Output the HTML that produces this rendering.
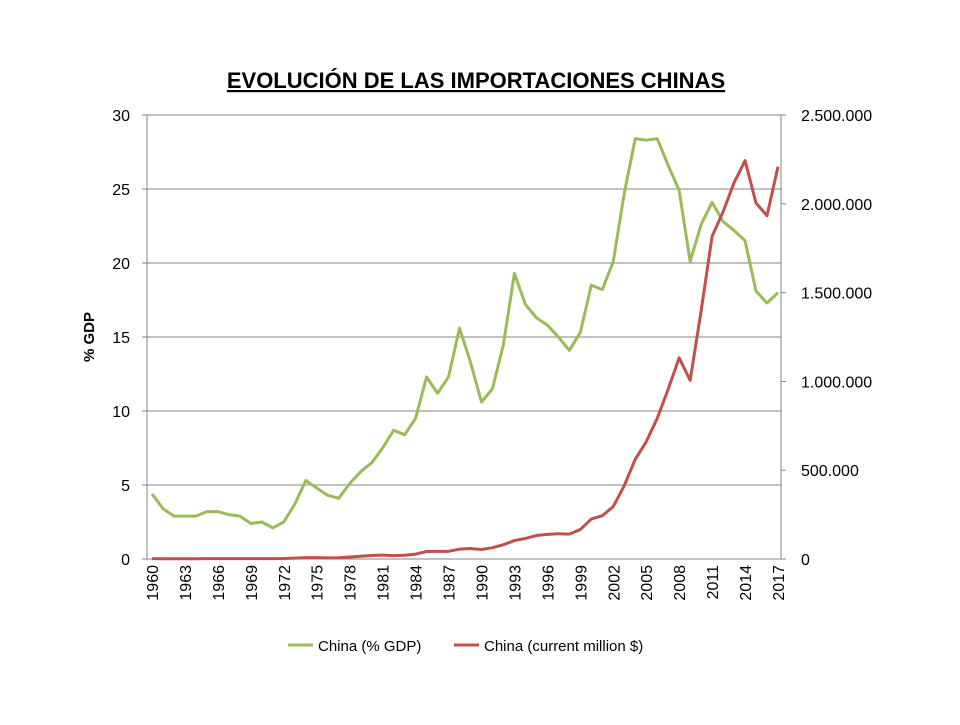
<!DOCTYPE html>
<html><head><meta charset="utf-8"><style>
body{margin:0;background:#fff;font-family:"Liberation Sans",sans-serif}
</style></head><body>
<svg id="c" width="960" height="720" xmlns="http://www.w3.org/2000/svg">
<text x="476" y="88" text-anchor="middle" font-size="22" font-weight="bold" text-decoration="underline" font-family="Liberation Sans, sans-serif">EVOLUCIÓN DE LAS IMPORTACIONES CHINAS</text>
<text transform="translate(94,337) rotate(-90)" text-anchor="middle" font-size="15" font-weight="bold">% GDP</text>
<g id="grid"></g><g id="axes"></g><g id="series"></g>
<g>
<line x1="288" y1="645" x2="313" y2="645" stroke="#9BBB59" stroke-width="3"/>
<text x="318" y="651" font-size="15">China (% GDP)</text>
<line x1="454" y1="645" x2="479" y2="645" stroke="#C0504D" stroke-width="3"/>
<text x="484" y="651" font-size="15">China (current million $)</text>
</g>
</svg>
<script>
const years=[];for(let y=1960;y<=2017;y++)years.push(y);
const gdpPct=[4.4,3.4,2.9,2.9,2.9,3.2,3.2,3.0,2.9,2.4,2.5,2.1,2.5,3.7,5.3,4.8,4.3,4.1,5.1,5.9,6.5,7.5,8.7,8.4,9.5,12.3,11.2,12.3,15.6,13.3,10.6,11.5,14.5,19.3,17.2,16.3,15.8,15.0,14.1,15.3,18.5,18.2,20.1,24.7,28.4,28.3,28.4,26.6,24.9,20.1,22.6,24.1,22.8,22.2,21.5,18.1,17.3,18.0];
const usdMillion=[2000,1500,1200,1300,1500,1800,2200,2000,1900,1800,2300,2200,2900,5200,7600,7500,6600,7200,11100,15700,20000,22000,19300,21400,27400,42300,42900,43200,55300,59100,53300,63800,80600,103900,115600,132100,138800,142400,140200,165700,225100,243600,295200,412800,561200,660000,791500,956100,1132600,1005900,1396200,1817000,1954600,2118800,2243600,2003800,1933000,2208800];
const leftTicks=[0,5,10,15,20,25,30];
const rightTicks=[0,500000,1000000,1500000,2000000,2500000];
const rightLabels=["0","500.000","1.000.000","1.500.000","2.000.000","2.500.000"];
const X0=147,X1=781,Y0=559,Y1=115;
const x=i=>152+i*(778-152)/(years.length-1);
const yL=v=>Y0-(v/30)*(Y0-Y1);
const yR=v=>Y0-(v/2500000)*(Y0-Y1);
const NS="http://www.w3.org/2000/svg";
function mk(t,a,p){const e=document.createElementNS(NS,t);for(const k in a)e.setAttribute(k,a[k]);p.appendChild(e);return e;}
const grid=document.getElementById('grid'),axes=document.getElementById('axes'),ser=document.getElementById('series');
leftTicks.forEach(v=>{
 if(v>0){const l=mk('line',{x1:X0,x2:X1,y1:yL(v),y2:yL(v),stroke:'#868686','stroke-width':1},grid);
 
 }
 const t=mk('text',{x:X0-17,y:yL(v)+6,'text-anchor':'end','font-size':16},axes);t.textContent=v;
 
 
 mk('line',{x1:X0-5,x2:X0,y1:yL(v),y2:yL(v),stroke:'#868686'},axes);
});
rightTicks.forEach((v,i)=>{
 const t=mk('text',{x:X1+20,y:yR(v)+6,'font-size':16},axes);t.textContent=rightLabels[i];
 
 
 mk('line',{x1:X1,x2:X1+5,y1:yR(v),y2:yR(v),stroke:'#868686'},axes);
});
mk('line',{x1:X0,x2:X0,y1:Y1,y2:Y0,stroke:'#868686'},axes);
mk('line',{x1:X1,x2:X1,y1:Y1,y2:Y0,stroke:'#868686'},axes);
mk('line',{x1:X0,x2:X1,y1:Y0,y2:Y0,stroke:'#868686'},axes);
years.forEach((yr,i)=>{
 if(i%3===0||i===years.length-1){
  const t=mk('text',{transform:`translate(${x(i)+6},${Y0+6}) rotate(-90)`,'text-anchor':'end','font-size':16},axes);t.textContent=yr;
  
  
 }
});
const p1=mk('polyline',{points:gdpPct.map((v,i)=>x(i)+','+yL(v)).join(' '),fill:'none',stroke:'#9BBB59','stroke-width':3,'stroke-linejoin':'round'},ser);


const p2=mk('polyline',{points:usdMillion.map((v,i)=>x(i)+','+yR(v)).join(' '),fill:'none',stroke:'#C0504D','stroke-width':3,'stroke-linejoin':'round'},ser);


</script>
</body></html>
